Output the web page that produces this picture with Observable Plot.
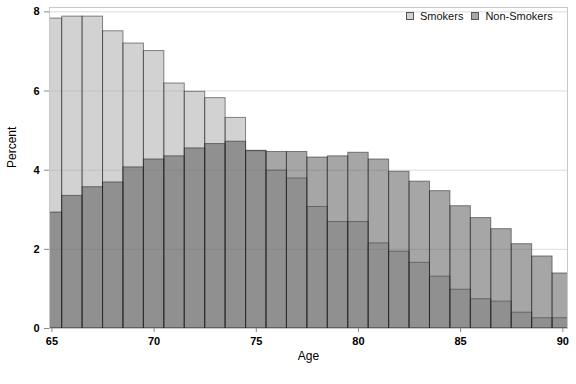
<!DOCTYPE html>
<html><head><meta charset="utf-8">
<script src="https://cdn.jsdelivr.net/npm/d3@7"></script>
<script src="https://cdn.jsdelivr.net/npm/@observablehq/plot@0.6"></script>
<style>
body{margin:0;background:#fff;font-family:"Liberation Sans",Arial,sans-serif;}
#wrap{position:relative;width:576px;height:384px;}
#legend{position:absolute;left:406px;top:10px;font-size:11px;line-height:12px;color:#111;white-space:nowrap;display:flex;align-items:center;}
#legend .sw{display:inline-block;width:6px;height:6px;border:1px solid #555;margin-right:6px;}
#legend .item{display:flex;align-items:center;margin-right:8px;}
</style></head>
<body><div id="wrap"><div id="legend"></div></div>
<script>
const ages = [65,66,67,68,69,70,71,72,73,74,75,76,77,78,79,80,81,82,83,84,85,86,87,88,89,90];
const smokers = [7.83,7.88,7.88,7.51,7.20,7.01,6.19,5.98,5.82,5.32,4.48,3.99,3.79,3.07,2.69,2.69,2.15,1.94,1.66,1.31,0.98,0.74,0.68,0.40,0.26,0.26];
const nonSmokers = [2.93,3.35,3.57,3.69,4.07,4.27,4.35,4.55,4.66,4.72,4.49,4.46,4.46,4.32,4.35,4.44,4.27,3.96,3.71,3.47,3.09,2.79,2.51,2.13,1.82,1.39];
const seriesNames = ["Smokers","Non-Smokers"];
const seriesFills = ["#a5a5a5","#4e4e4e"];
const legendSwatches = ["#d2d2d2","#a6a6a6"];
const xTicks = [65,70,75,80,85,90];
const yTicks = [0,2,4,6,8];

const rows = (vals) => ages.map((a,i)=>({age:a, value:vals[i]}));
const barOpts = (fill) => ({
  x1: d=>d.age-0.5, x2: d=>d.age+0.5, y1: 0, y2: "value",
  fill, fillOpacity: 0.5, stroke: "#1a1a1a", strokeOpacity: 0.5, strokeWidth: 1, clip: true
});

const chart = Plot.plot({
  width: 576, height: 384,
  marginLeft: 49, marginRight: 9, marginTop: 7, marginBottom: 56,
  x: {domain: [64.88, 90.23]},
  y: {domain: [0, 8.11]},
  style: {fontFamily: "Liberation Sans, Arial, sans-serif", fontSize: "11px", color: "#000", background: "#fff"},
  marks: [
    Plot.gridY(yTicks, {stroke: "#dcdcdc", strokeOpacity: 1}),
    Plot.rectY(rows(smokers), barOpts(seriesFills[0])),
    Plot.rectY(rows(nonSmokers), barOpts(seriesFills[1])),
    Plot.frame({stroke: "#c8c8c8"}),
    Plot.axisX({ticks: xTicks, tickSize: 4, tickPadding: 5, stroke: "#888", label: null, tickFormat: d=>String(d), fontWeight: "bold"}),
    Plot.axisY({ticks: yTicks, tickSize: 5, tickPadding: 5, stroke: "#888", label: null, fontWeight: "bold"}),
    Plot.text(["Percent"], {frameAnchor: "left", rotate: -90, dx: -37, fontSize: 12, fill: "#000"}),
    Plot.text(["Age"], {frameAnchor: "bottom", dy: 31, fontSize: 12, fill: "#000"})
  ]
});
document.getElementById("wrap").prepend(chart);

const lg = document.getElementById("legend");
seriesNames.forEach((n,i)=>{
  const it = document.createElement("span"); it.className="item";
  const sw = document.createElement("span"); sw.className="sw"; sw.style.background = legendSwatches[i];
  it.appendChild(sw); it.appendChild(document.createTextNode(n));
  lg.appendChild(it);
});
</script>
</body></html>
